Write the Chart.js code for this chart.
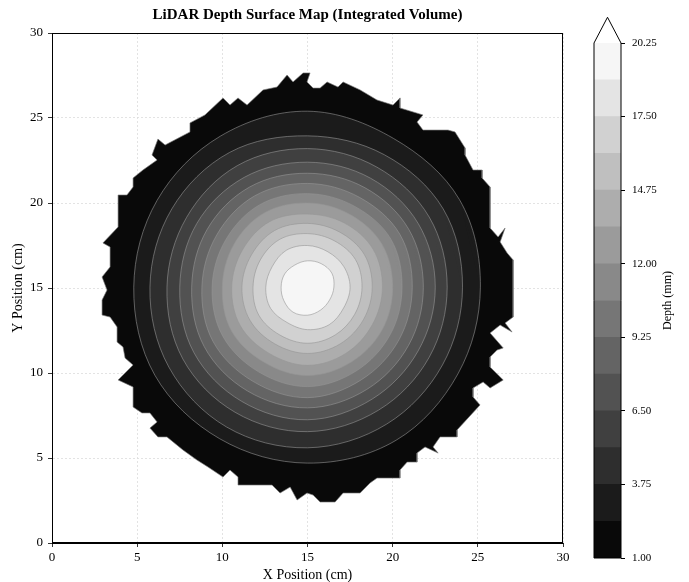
<!DOCTYPE html>
<html>
<head>
<meta charset="utf-8">
<script src="https://cdn.jsdelivr.net/npm/chart.js@4.4.1/dist/chart.umd.min.js"></script>
<style>
  html, body { margin: 0; padding: 0; background: #fff; }
  #wrap { position: relative; width: 689px; height: 582px; }
  #mapChart { position: absolute; left: 0; top: 0; }
  #barChart { position: absolute; left: 570px; top: 0; }
</style>
</head>
<body>
<div id="wrap">
  <canvas id="mapChart" width="689" height="582"></canvas>
  <canvas id="barChart" width="119" height="582"></canvas>
</div>
<script>
// contour levels (mm) and the grey of each filled band
const levels = [1.00, 2.375, 3.75, 5.125, 6.50, 7.875, 9.25, 10.625, 12.00, 13.375, 14.75, 16.125, 17.50, 18.875, 20.25];
const bandGray = [9, 27, 46, 64, 82, 100, 118, 137, 155, 173, 191, 209, 228, 246];
const cbarTicks = [1.00, 3.75, 6.50, 9.25, 12.00, 14.75, 17.50, 20.25];
const axisTicks = [0, 5, 10, 15, 20, 25, 30];

// centre of the depression (cm)
const center = [15.0, 15.05];
// contour radii (cm) read at these angles, one row per level from 2.375 up to 18.875
const ringAngles = [0, 30, 60, 90, 120, 150, 180, 210, 240, 270, 300, 330];
const ringRadii = [
  [10.15, 10.3, 10.1, 10.35, 10.25, 10.2, 10.2, 10.35, 10.3, 10.35, 10.4, 10.2],
  [9.1, 9.2, 9.0, 8.9, 9.15, 9.2, 9.25, 9.4, 9.5, 9.45, 9.3, 9.15],
  [8.2, 8.25, 8.15, 8.15, 8.25, 8.2, 8.25, 8.45, 8.5, 8.5, 8.35, 8.25],
  [7.5, 7.5, 7.4, 7.35, 7.45, 7.5, 7.5, 7.7, 7.75, 7.8, 7.6, 7.5],
  [6.8, 6.85, 6.75, 6.7, 6.8, 6.8, 6.8, 7.0, 7.05, 7.1, 6.95, 6.85],
  [6.15, 6.25, 6.1, 6.1, 6.2, 6.15, 6.2, 6.4, 6.4, 6.5, 6.3, 6.2],
  [5.55, 5.65, 5.5, 5.5, 5.6, 5.55, 5.6, 5.75, 5.75, 5.85, 5.7, 5.6],
  [5.0, 5.05, 4.95, 4.95, 5.05, 5.0, 5.0, 5.15, 5.1, 5.2, 5.1, 5.05],
  [4.4, 4.45, 4.35, 4.3, 4.45, 4.4, 4.45, 4.55, 4.5, 4.6, 4.5, 4.4],
  [3.8, 3.85, 3.75, 3.75, 3.85, 3.8, 3.85, 3.9, 3.85, 3.9, 3.85, 3.8],
  [3.2, 3.25, 3.15, 3.15, 3.25, 3.2, 3.2, 3.3, 3.25, 3.3, 3.25, 3.2],
  [2.5, 2.45, 2.4, 2.45, 2.5, 2.4, 2.45, 2.5, 2.4, 2.5, 2.55, 2.45],
  [1.55, 1.65, 1.6, 1.55, 1.5, 1.55, 1.55, 1.6, 1.7, 1.65, 1.55, 1.5]
];

// ragged outer edge of the 1.00 mm level (cm)
const outerEdge = [
  [14.74,27.65],[15.15,27.65],[14.97,27.12],[15.33,26.76],[15.74,26.76],[16.15,27.12],[16.79,26.82],[17.09,27.12],
  [18.09,26.65],[19.08,26.06],[20.02,25.76],[20.43,26.18],[20.43,25.59],[21.78,25.18],[21.43,24.76],[21.78,24.29],
  [23.25,24.29],[23.66,24.18],[24.25,23.24],[24.25,22.82],[24.72,21.94],[25.25,21.94],[25.25,21.47],[25.72,20.94],
  [25.72,18.53],[26.19,18.0],[26.60,18.53],[26.31,17.71],[26.72,17.06],[27.07,16.65],[27.07,13.29],[26.60,12.94],
  [27.01,12.41],[26.31,12.82],[25.72,12.35],[26.49,11.47],[26.13,11.35],[25.72,10.94],[25.72,10.35],[26.49,9.59],
  [25.72,9.12],[25.31,9.47],[24.72,9.12],[24.72,8.59],[25.13,8.12],[23.78,6.65],[23.78,6.24],[22.78,6.24],
  [22.37,5.65],[22.67,5.29],[21.90,5.65],[21.43,5.29],[21.43,4.76],[20.85,4.76],[20.43,4.29],[20.43,3.82],
  [19.08,3.82],[18.67,3.53],[18.09,2.94],[17.09,2.94],[16.62,2.41],[15.74,2.41],[15.33,2.82],[14.97,2.94],
  [14.39,2.53],[13.98,3.29],[13.39,2.94],[12.92,3.41],[10.92,3.41],[10.92,3.88],[10.45,4.29],[10.04,3.88],
  [9.16,4.47],[8.51,4.88],[7.69,5.47],[6.75,6.24],[6.22,6.24],[5.75,6.76],[6.17,7.12],[5.75,7.65],
  [5.28,7.65],[4.76,8.0],[4.76,9.18],[3.88,9.59],[4.76,10.47],[4.29,10.88],[4.17,11.53],[3.82,11.82],
  [3.82,12.71],[3.41,13.29],[2.94,13.41],[2.94,14.29],[3.23,14.88],[2.94,15.65],[3.41,16.24],[3.41,17.41],
  [2.99,17.65],[3.88,18.59],[3.88,20.47],[4.40,20.47],[4.76,20.94],[4.76,21.47],[5.34,21.94],[6.17,22.53],
  [5.87,22.82],[6.22,23.76],[6.64,23.41],[8.10,24.18],[8.10,24.71],[8.98,25.18],[10.04,26.18],[10.45,25.76],
  [10.92,26.18],[11.45,25.76],[12.39,26.65],[13.21,26.82],[13.80,27.53],[14.15,27.12],[14.74,27.65]
];

const SERIF = "'Liberation Serif', 'DejaVu Serif', serif";
Chart.defaults.font.family = SERIF;
Chart.defaults.color = '#000';

function gray(v) { return 'rgb(' + v + ',' + v + ',' + v + ')'; }

// closed ring; wraps one point past each end so the smoothed curve has no kink at the seam
function ringPoints(radii) {
  const pts = ringAngles.map((a, i) => {
    const t = a * Math.PI / 180;
    return { x: center[0] + radii[i] * Math.cos(t), y: center[1] + radii[i] * Math.sin(t) };
  });
  const n = pts.length;
  return [pts[n - 1], ...pts, pts[0], pts[1]];
}

// innermost band first so it is painted last (on top)
const contourSets = [];
for (let k = levels.length - 2; k >= 0; k--) {
  const isRing = k > 0;
  const pts = isRing ? ringPoints(ringRadii[k - 1]) : outerEdge.map(p => ({ x: p[0], y: p[1] }));
  const last = pts.length - 1;
  contourSets.push({
    label: levels[k].toFixed(3),
    data: pts,
    showLine: true,
    fill: 'shape',
    backgroundColor: gray(bandGray[k]),
    borderColor: isRing ? 'rgba(150,150,150,0.75)' : 'rgba(120,120,120,0.8)',
    borderWidth: 0.8,
    pointRadius: 0,
    tension: isRing ? 0.35 : 0,
    segment: isRing ? {
      // the two wrap segments are only there for the curve shape, do not stroke them
      borderColor: c => (c.p0DataIndex === 0 || c.p1DataIndex === last) ? 'rgba(0,0,0,0)' : undefined
    } : undefined
  });
}

const boxPlugin = {
  id: 'box',
  afterDatasetsDraw(chart) {
    const a = chart.chartArea, ctx = chart.ctx;
    ctx.save();
    ctx.strokeStyle = '#000';
    ctx.lineWidth = 1;
    ctx.strokeRect(a.left + 0.5, a.top + 0.5, a.right - a.left - 1, a.bottom - a.top - 1);
    ctx.restore();
  }
};

new Chart(document.getElementById('mapChart'), {
  type: 'scatter',
  data: { datasets: contourSets },
  options: {
    responsive: false,
    animation: false,
    layout: { padding: { left: 0, right: 126, top: 0, bottom: 0 } },
    plugins: {
      legend: { display: false },
      tooltip: { enabled: false },
      title: {
        display: true,
        text: 'LiDAR Depth Surface Map (Integrated Volume)',
        fullSize: false,
        font: { size: 15, weight: 'bold', family: SERIF },
        color: '#000',
        padding: { top: 6, bottom: 9 }
      }
    },
    scales: {
      x: {
        type: 'linear', min: 0, max: 30,
        afterBuildTicks: s => { s.ticks = axisTicks.map(v => ({ value: v })); },
        afterFit: s => { s.height = 39; },
        ticks: { font: { size: 13 }, padding: 3, maxRotation: 0 },
        grid: { color: '#dcdcdc', lineWidth: 0.8, tickColor: '#000', tickLength: 4 },
        border: { color: '#000', dash: [2, 2] },
        title: { display: true, text: 'X Position (cm)', font: { size: 14 }, padding: { top: 0, bottom: -2 } }
      },
      y: {
        type: 'linear', min: 0, max: 30,
        afterBuildTicks: s => { s.ticks = axisTicks.map(v => ({ value: v })); },
        afterFit: s => { s.width = 52; },
        ticks: { font: { size: 13 }, padding: 5 },
        grid: { color: '#dcdcdc', lineWidth: 0.8, tickColor: '#000', tickLength: 4 },
        border: { color: '#000', dash: [2, 2] },
        title: { display: true, text: 'Y Position (cm)', font: { size: 14 }, padding: { top: 10, bottom: 0 } }
      }
    }
  },
  plugins: [boxPlugin]
});

// colour bar
const barSets = [];
for (let k = 0; k < levels.length - 1; k++) {
  barSets.push({
    data: [[levels[k], levels[k + 1]]],
    backgroundColor: gray(bandGray[k]),
    borderWidth: 0,
    grouped: false,
    barPercentage: 1,
    categoryPercentage: 1
  });
}

const barFrame = {
  id: 'barFrame',
  afterDatasetsDraw(chart) {
    const a = chart.chartArea, ctx = chart.ctx;
    const y = chart.scales.y;
    const top = y.getPixelForValue(levels[levels.length - 1]);
    const bot = y.getPixelForValue(levels[0]);
    const ext = (bot - top) * 0.05;
    const mid = (a.left + a.right) / 2;
    ctx.save();
    ctx.beginPath();
    ctx.moveTo(a.left, top);
    ctx.lineTo(mid, top - ext);
    ctx.lineTo(a.right, top);
    ctx.closePath();
    ctx.fillStyle = '#fff';
    ctx.fill();
    ctx.beginPath();
    ctx.moveTo(a.left, bot);
    ctx.lineTo(a.left, top);
    ctx.lineTo(mid, top - ext);
    ctx.lineTo(a.right, top);
    ctx.lineTo(a.right, bot);
    ctx.closePath();
    ctx.strokeStyle = '#000';
    ctx.lineWidth = 1;
    ctx.stroke();
    // axis label, reading bottom to top
    ctx.translate(98, (top + bot) / 2);
    ctx.rotate(-Math.PI / 2);
    ctx.font = '12px ' + SERIF;
    ctx.fillStyle = '#000';
    ctx.textAlign = 'center';
    ctx.textBaseline = 'middle';
    ctx.fillText('Depth (mm)', 0, 0);
    ctx.restore();
  }
};

new Chart(document.getElementById('barChart'), {
  type: 'bar',
  data: { labels: ['depth'], datasets: barSets },
  options: {
    responsive: false,
    animation: false,
    layout: { padding: { left: 24, right: 0, top: 43, bottom: 24 } },
    plugins: { legend: { display: false }, tooltip: { enabled: false } },
    scales: {
      x: { display: false },
      y: {
        position: 'right', min: levels[0], max: levels[levels.length - 1],
        afterBuildTicks: s => { s.ticks = cbarTicks.map(v => ({ value: v })); },
        afterFit: s => { s.width = 68; },
        ticks: { font: { size: 11 }, padding: 7, callback: v => Number(v).toFixed(2) },
        grid: { drawOnChartArea: false, tickColor: '#000', tickLength: 4 },
        border: { display: false }
      }
    }
  },
  plugins: [barFrame]
});
</script>
</body>
</html>
